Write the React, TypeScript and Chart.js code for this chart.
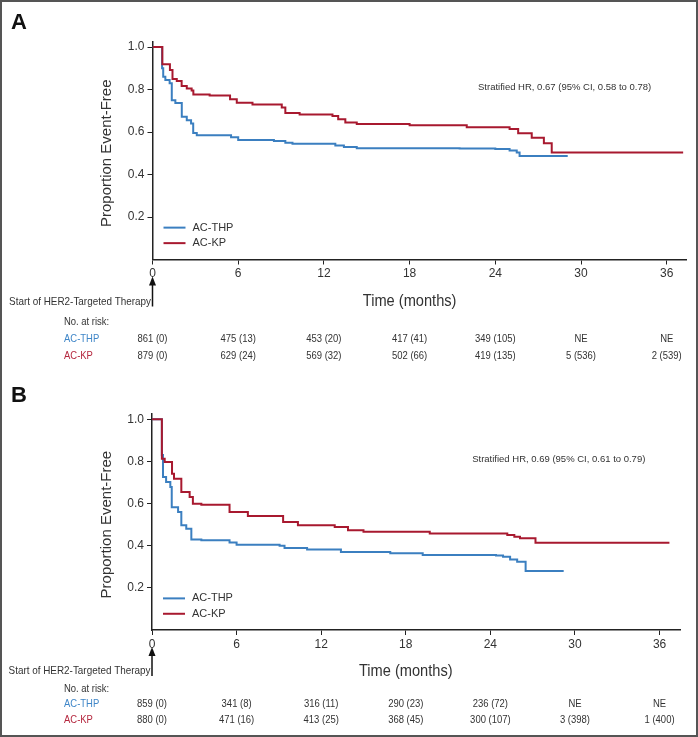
import React, { useEffect, useRef } from "react";
import { Chart, registerables } from "chart.js";

Chart.register(...registerables);

const SANS = "'Liberation Sans', Arial, sans-serif";
const BLUE = "#3b7fc0";
const RED = "#a8192f";
const TEXT = "#333333";

const X_TICKS = [0, 6, 12, 18, 24, 30, 36];
const Y_TICKS = [0.2, 0.4, 0.6, 0.8, 1.0];
const SERIES = ["AC-THP", "AC-KP"];

// Panel A
const A_THP_TIME = [0, 0.67, 0.75, 0.9, 1.2, 1.35, 1.6, 2.05, 2.4, 2.7, 2.85, 3.1, 5.5, 6.0, 8.5, 9.3, 9.8, 12.8, 13.4, 14.3, 21.5, 24.0, 25.0, 25.5, 25.7, 29.07];
const A_THP_SURV = [1.0, 0.9, 0.86, 0.845, 0.83, 0.75, 0.736, 0.672, 0.655, 0.64, 0.595, 0.585, 0.575, 0.562, 0.558, 0.55, 0.545, 0.537, 0.53, 0.524, 0.522, 0.52, 0.513, 0.504, 0.487, 0.487];
const A_KP_TIME = [0, 0.69, 1.22, 1.4, 1.7, 2.04, 2.4, 2.74, 2.86, 4.0, 5.43, 5.9, 7.0, 9.05, 9.3, 10.3, 12.6, 13.0, 13.5, 14.3, 18.0, 22.0, 25.0, 25.6, 26.55, 27.4, 27.95, 37.15];
const A_KP_SURV = [1.0, 0.919, 0.892, 0.849, 0.84, 0.816, 0.805, 0.795, 0.777, 0.772, 0.754, 0.738, 0.73, 0.715, 0.69, 0.682, 0.675, 0.66, 0.645, 0.638, 0.632, 0.622, 0.614, 0.594, 0.573, 0.547, 0.504, 0.504];
const A_RISK_THP = ["861 (0)", "475 (13)", "453 (20)", "417 (41)", "349 (105)", "NE", "NE"];
const A_RISK_KP = ["879 (0)", "629 (24)", "569 (32)", "502 (66)", "419 (135)", "5 (536)", "2 (539)"];
const A_HR = "Stratified HR, 0.67 (95% CI, 0.58 to 0.78)";

// Panel B
const B_THP_TIME = [0, 0.7, 0.78, 1.0, 1.3, 1.4, 1.85, 2.08, 2.43, 2.79, 3.5, 5.5, 6.0, 9.05, 9.4, 11.0, 13.4, 16.9, 19.2, 24.4, 24.9, 25.4, 25.9, 26.5, 29.2];
const B_THP_SURV = [1.0, 0.83, 0.726, 0.702, 0.678, 0.583, 0.56, 0.497, 0.481, 0.43, 0.426, 0.415, 0.405, 0.4, 0.389, 0.382, 0.37, 0.364, 0.356, 0.354, 0.348, 0.335, 0.324, 0.28, 0.28];
const B_KP_TIME = [0, 0.7, 0.9, 1.42, 1.56, 2.08, 2.67, 2.9, 3.5, 5.5, 6.8, 9.3, 10.35, 12.96, 13.9, 15.0, 19.7, 25.2, 25.7, 26.1, 27.2, 36.7];
const B_KP_SURV = [1.0, 0.813, 0.797, 0.741, 0.718, 0.655, 0.631, 0.599, 0.594, 0.56, 0.541, 0.512, 0.497, 0.489, 0.473, 0.466, 0.458, 0.451, 0.443, 0.435, 0.414, 0.414];
const B_RISK_THP = ["859 (0)", "341 (8)", "316 (11)", "290 (23)", "236 (72)", "NE", "NE"];
const B_RISK_KP = ["880 (0)", "471 (16)", "413 (25)", "368 (45)", "300 (107)", "3 (398)", "1 (400)"];
const B_HR = "Stratified HR, 0.69 (95% CI, 0.61 to 0.79)";

type Panel = {
  letter: string;
  thpT: number[]; thpS: number[]; kpT: number[]; kpS: number[];
  riskThp: string[]; riskKp: string[]; hr: string;
  height: number; padTop: number; padRight: number; xAxisH: number; yAxisW: number; xMax: number;
  letterY: number; noRiskDy: number; row1Dy: number; row2Dy: number; timeDy: number;
};

const PANEL_A: Panel = {
  letter: "A",
  thpT: A_THP_TIME, thpS: A_THP_SURV, kpT: A_KP_TIME, kpS: A_KP_SURV,
  riskThp: A_RISK_THP, riskKp: A_RISK_KP, hr: A_HR,
  height: 368, padTop: 41.7, padRight: 12, xAxisH: 108.5, yAxisW: 152.5, xMax: 37.35,
  letterY: 23, noRiskDy: 62, row1Dy: 79.5, row2Dy: 96.5, timeDy: 42,
};
const PANEL_B: Panel = {
  letter: "B",
  thpT: B_THP_TIME, thpS: B_THP_SURV, kpT: B_KP_TIME, kpS: B_KP_SURV,
  riskThp: B_RISK_THP, riskKp: B_RISK_KP, hr: B_HR,
  height: 369, padTop: 46, padRight: 18, xAxisH: 107, yAxisW: 152, xMax: 37.45,
  letterY: 27.5, noRiskDy: 59, row1Dy: 74, row2Dy: 90, timeDy: 41,
};

// draw horizontally condensed text
function narrowText(ctx: CanvasRenderingContext2D, text: string, x: number, y: number, align: CanvasTextAlign, sx: number) {
  ctx.save();
  ctx.translate(x, y);
  ctx.scale(sx, 1);
  ctx.textAlign = align;
  ctx.fillText(text, 0, 0);
  ctx.restore();
}

function makeChart(canvas: HTMLCanvasElement, p: Panel) {
  const extras = {
    id: "extras",
    afterDraw(chart: any) {
      const ctx = chart.ctx as CanvasRenderingContext2D;
      const xs = chart.scales.x;
      const ys = chart.scales.y;
      const ca = chart.chartArea;
      const axisY = ys.getPixelForValue(0);
      ctx.save();
      ctx.textBaseline = "middle";
      // Panel letter
      ctx.fillStyle = "#111";
      ctx.font = `bold 22px ${SANS}`;
      ctx.textAlign = "left";
      ctx.fillText(p.letter, 11, p.letterY);

      // Y title
      ctx.save();
      ctx.translate(107, ys.getPixelForValue(0.5));
      ctx.rotate(-Math.PI / 2);
      ctx.font = `15px ${SANS}`;
      ctx.fillStyle = TEXT;
      ctx.textAlign = "center";
      ctx.fillText("Proportion Event-Free", 0, 0);
      ctx.restore();

      // HR text
      ctx.font = `9.5px ${SANS}`;
      ctx.fillStyle = TEXT;
      ctx.textAlign = "center";
      ctx.fillText(p.hr, xs.getPixelForValue(28.85), ys.getPixelForValue(0.812));

      // Legend
      const legY = [ys.getPixelForValue(0.15), ys.getPixelForValue(0.077)];
      const cols = [BLUE, RED];
      ctx.font = `11px ${SANS}`;
      ctx.textAlign = "left";
      for (let i = 0; i < 2; i++) {
        ctx.strokeStyle = cols[i];
        ctx.lineWidth = 2;
        ctx.beginPath();
        ctx.moveTo(ca.left + 11, legY[i]);
        ctx.lineTo(ca.left + 33, legY[i]);
        ctx.stroke();
        ctx.fillStyle = TEXT;
        ctx.fillText(SERIES[i], ca.left + 40, legY[i]);
      }

      // Time title
      ctx.font = `17px ${SANS}`;
      ctx.fillStyle = TEXT;
      narrowText(ctx, "Time (months)", xs.getPixelForValue(18), axisY + p.timeDy, "center", 0.86);

      // Start of therapy + arrow
      ctx.font = `11px ${SANS}`;
      narrowText(ctx, "Start of HER2-Targeted Therapy", ca.left - 1.5, axisY + p.timeDy, "right", 0.9);
      ctx.strokeStyle = "#111";
      ctx.fillStyle = "#111";
      ctx.lineWidth = 1.5;
      ctx.beginPath();
      ctx.moveTo(ca.left, axisY + p.timeDy + 5);
      ctx.lineTo(ca.left, axisY + 24);
      ctx.stroke();
      ctx.beginPath();
      ctx.moveTo(ca.left, axisY + 17);
      ctx.lineTo(ca.left - 3.5, axisY + 26);
      ctx.lineTo(ca.left + 3.5, axisY + 26);
      ctx.closePath();
      ctx.fill();

      // Risk table
      const sx = 0.86;
      ctx.fillStyle = TEXT;
      narrowText(ctx, "No. at risk:", 64, axisY + p.noRiskDy, "left", sx);
      ctx.fillStyle = "#3f86c8";
      narrowText(ctx, SERIES[0], 64, axisY + p.row1Dy, "left", sx);
      ctx.fillStyle = "#b5283f";
      narrowText(ctx, SERIES[1], 64, axisY + p.row2Dy, "left", sx);
      ctx.fillStyle = TEXT;
      X_TICKS.forEach((t, i) => {
        const x = xs.getPixelForValue(t);
        narrowText(ctx, p.riskThp[i], x, axisY + p.row1Dy, "center", sx);
        narrowText(ctx, p.riskKp[i], x, axisY + p.row2Dy, "center", sx);
      });
      ctx.restore();
    },
  };

  return new Chart(canvas, {
    type: "line",
    data: {
      datasets: [
        {
          label: SERIES[1],
          data: p.kpT.map((t, i) => ({ x: t, y: p.kpS[i] })),
          borderColor: RED,
          borderWidth: 2,
          stepped: true,
          pointRadius: 0,
          fill: false,
        },
        {
          label: SERIES[0],
          data: p.thpT.map((t, i) => ({ x: t, y: p.thpS[i] })),
          borderColor: BLUE,
          borderWidth: 2,
          stepped: true,
          pointRadius: 0,
          fill: false,
        },
      ],
    },
    options: {
      responsive: false,
      animation: false,
      devicePixelRatio: 1,
      layout: { padding: { top: p.padTop, right: p.padRight, left: 0, bottom: 0 } },
      plugins: { legend: { display: false }, tooltip: { enabled: false } },
      scales: {
        x: {
          type: "linear",
          min: 0,
          max: p.xMax,
          afterBuildTicks: (s: any) => { s.ticks = X_TICKS.map((v) => ({ value: v })); },
          afterFit: (s: any) => { s.height = p.xAxisH; },
          ticks: { font: { family: SANS, size: 12 }, color: TEXT, padding: 2, maxRotation: 0, autoSkip: false },
          grid: { display: true, drawOnChartArea: false, drawTicks: true, tickLength: 5, color: "#222", lineWidth: 1 },
          border: { display: true, color: "#222", width: 1.5 },
        },
        y: {
          type: "linear",
          min: 0,
          max: 1.025,
          afterBuildTicks: (s: any) => { s.ticks = Y_TICKS.map((v) => ({ value: v })); },
          afterFit: (s: any) => { s.width = p.yAxisW; },
          ticks: { font: { family: SANS, size: 12 }, color: TEXT, padding: 3, callback: (v: any) => Number(v).toFixed(1) },
          grid: { display: true, drawOnChartArea: false, drawTicks: true, tickLength: 5, color: "#222", lineWidth: 1 },
          border: { display: true, color: "#222", width: 1.5 },
        },
      },
    },
    plugins: [extras],
  } as any);
}

export default function App() {
  const refA = useRef<HTMLCanvasElement | null>(null);
  const refB = useRef<HTMLCanvasElement | null>(null);
  useEffect(() => {
    const a = makeChart(refA.current as HTMLCanvasElement, PANEL_A);
    const b = makeChart(refB.current as HTMLCanvasElement, PANEL_B);
    return () => { a.destroy(); b.destroy(); };
  }, []);
  return (
    <div style={{ position: "fixed", left: 0, top: 0, width: 698, height: 737, background: "#fff" }}>
      <div style={{ position: "absolute", left: 0, top: 0, width: 698, height: 737, border: "2px solid #555", boxSizing: "border-box" }} />
      <canvas ref={refA} width={698} height={PANEL_A.height} style={{ position: "absolute", left: 0, top: 0, width: 698, height: PANEL_A.height }} />
      <canvas ref={refB} width={698} height={PANEL_B.height} style={{ position: "absolute", left: 0, top: PANEL_A.height, width: 698, height: PANEL_B.height }} />
    </div>
  );
}
